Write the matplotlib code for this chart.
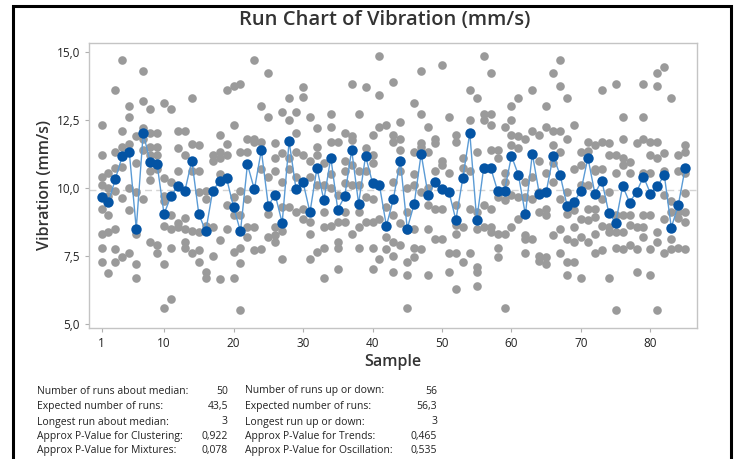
import matplotlib
matplotlib.use('Agg')
import matplotlib.pyplot as plt
from matplotlib.patches import Rectangle

plt.rcParams['font.family'] = ['Open Sans', 'DejaVu Sans']

obs = [
    [12.31, 11.21, 10.41, 10.10, 9.24, 8.31, 7.80, 7.29],
    [10.53, 9.98, 9.7, 8.99, 8.38, 6.88],
    [13.6, 11.33, 10.71, 9.89, 8.50, 7.74, 7.29],
    [14.7, 12.09, 11.51, 10.77, 9.61, 7.45],
    [13.0, 12.6, 11.6, 10.0, 9.2, 7.6],
    [11.9, 10.9, 9.85, 8.3, 7.2, 6.7],
    [14.3, 13.2, 12.2, 11.8, 11.4, 9.6],
    [12.9, 12.0, 11.5, 11.2, 10.6, 10.3, 8.0],
    [12.0, 11.5, 11.2, 10.7, 7.9, 7.6],
    [13.1, 10.35, 9.7, 9.5, 8.6, 7.2, 5.6],
    [12.9, 10.2, 9.0, 8.5, 7.8, 5.9],
    [12.1, 11.45, 10.6, 8.7, 8.55],
    [12.1, 11.2, 8.9, 8.5, 8.0, 7.8],
    [13.3, 11.6, 10.6, 8.4, 7.6],
    [11.57, 10.6, 9.85, 8.38, 7.7, 7.27],
    [9.9, 9.6, 8.6, 6.9, 6.7],
    [11.2, 11.0, 9.9, 8.56, 7.5],
    [11.94, 11.3, 11.1, 10.5, 8.1, 6.65],
    [13.6, 11.6, 11.2, 9.36, 8.5],
    [13.73, 12.3, 9.67, 9.0, 7.64, 6.7],
    [13.8, 11.3, 9.9, 9.0, 7.8, 7.24, 5.5],
    [11.8, 11.33, 9.6, 8.56, 8.2],
    [14.7, 11.8, 11.7, 8.56, 7.7],
    [13.0, 11.7, 10.7, 7.74],
    [14.2, 12.6, 10.4, 9.05, 8.2],
    [11.64, 11.08, 10.6, 8.56, 8.25, 8.0],
    [12.8, 11.27, 10.2, 9.3, 8.4, 7.4],
    [13.3, 12.5, 11.1, 10.7, 9.3],
    [12.8, 12.0, 11.33, 10.4, 9.1],
    [13.7, 13.33, 11.2, 9.24, 8.87],
    [12.6, 11.0, 10.4, 8.75, 8.3, 7.4],
    [12.2, 11.5, 11.2, 10.1, 7.64],
    [10.9, 10.1, 9.1, 8.56, 7.8, 6.7],
    [12.7, 12.25, 11.7, 10.5, 10.0, 8.6],
    [11.7, 9.73, 8.75, 8.0, 7.8, 7.0],
    [12.0, 11.0, 10.6, 10.16, 9.1, 8.75],
    [13.8, 11.9, 11.75, 10.84, 10.1, 8.3],
    [12.7, 10.6, 10.1, 9.1, 8.56, 7.8],
    [13.7, 11.45, 10.6, 9.67, 8.75],
    [11.94, 11.2, 10.9, 9.6, 8.75, 7.8, 7.0],
    [14.83, 13.4, 12.25, 8.87, 7.4],
    [12.3, 9.3, 8.2, 7.76],
    [13.9, 11.94, 11.7, 10.2, 9.0, 8.0, 7.5, 6.9],
    [12.4, 11.8, 11.4, 10.6, 8.7, 7.9],
    [10.0, 9.1, 8.45, 7.27, 6.8, 5.57],
    [13.1, 11.33, 10.5, 10.1, 8.5, 7.8, 7.45],
    [14.3, 12.7, 11.64, 11.5, 9.85, 7.74],
    [12.25, 11.33, 10.0, 9.36, 8.5, 6.8],
    [11.8, 11.64, 10.6, 9.24, 8.13],
    [14.5, 11.0, 10.84, 9.24, 8.13],
    [12.6, 10.53, 7.6, 6.9],
    [11.94, 11.7, 9.36, 8.62, 8.3, 7.6, 6.3],
    [11.08, 10.71, 8.56, 7.27],
    [13.6, 12.5, 10.6, 9.24, 7.6],
    [13.3, 11.33, 9.1, 8.5, 7.1, 6.9, 6.4],
    [14.83, 12.7, 12.5, 10.7, 9.36, 8.56],
    [14.2, 12.7, 12.3, 11.4, 9.24, 8.56, 8.38],
    [11.4, 11.08, 9.67, 8.3, 7.8, 7.45],
    [12.25, 10.53, 10.2, 9.55, 8.3, 5.6],
    [13.0, 12.5, 11.94, 11.57, 9.73, 8.56],
    [13.3, 11.9, 11.45, 9.67, 8.87],
    [11.8, 10.2, 9.67, 8.25, 8.13, 7.6],
    [13.6, 12.1, 10.4, 9.6, 8.13],
    [11.94, 11.0, 9.85, 9.1, 7.5, 7.3],
    [13.0, 12.25, 10.53, 9.24, 9.0, 7.45, 7.2],
    [14.2, 12.1, 11.57, 10.9, 10.2, 8.25],
    [14.7, 13.73, 12.07, 11.33, 9.6, 8.5, 7.6],
    [13.3, 11.8, 9.85, 9.05, 8.13, 7.27, 6.8],
    [12.3, 10.7, 9.18, 8.56, 8.0, 7.27],
    [11.33, 10.84, 10.1, 8.87, 8.2, 6.7],
    [11.7, 11.35, 10.1, 9.24, 8.8, 8.0],
    [11.57, 10.7, 10.6, 9.24, 8.93, 8.3, 7.6],
    [13.6, 11.7, 10.7, 9.6, 8.6, 7.7],
    [11.64, 11.2, 9.85, 8.56, 8.38, 6.7],
    [13.8, 11.2, 10.53, 9.0, 8.38, 7.8, 5.5],
    [12.6, 11.8, 11.08, 10.84, 9.0, 8.38, 7.74],
    [10.96, 10.53, 9.0, 8.62, 7.9],
    [11.64, 8.56, 7.74, 6.9],
    [13.8, 12.6, 11.8, 10.53, 9.0, 8.56, 8.2],
    [11.7, 11.2, 10.53, 9.0, 7.74, 6.8],
    [14.2, 13.73, 11.7, 11.08, 8.38, 8.0, 5.5],
    [14.43, 11.27, 10.6, 9.73, 8.87, 7.6],
    [13.3, 9.5, 9.1, 8.13, 7.74],
    [11.2, 10.6, 9.1, 8.9, 7.8],
    [11.57, 11.33, 10.53, 9.8, 9.1, 8.75, 7.74],
]

# subgroup means (blue points)
means = [
    9.67, 9.48, 10.33, 11.17, 11.31, 8.50, 12.00, 10.96, 10.86, 9.04,
    9.70, 10.07, 9.89, 11.00, 9.04, 8.40, 9.89, 10.24, 10.35, 9.30,
    8.40, 10.86, 9.94, 11.38, 9.35, 9.74, 8.71, 11.71, 9.94, 10.21,
    9.10, 10.72, 9.55, 11.11, 9.20, 9.69, 11.39, 9.42, 11.17, 10.18,
    10.09, 8.60, 9.59, 11.00, 8.50, 9.41, 11.25, 9.74, 10.20, 9.95,
    9.85, 8.82, 10.36, 12.02, 8.82, 10.74, 10.74, 9.89, 9.89, 11.17,
    10.47, 9.02, 11.25, 9.79, 9.85, 11.17, 10.47, 9.35, 9.48, 9.89,
    11.11, 9.79, 10.26, 9.09, 8.71, 10.07, 9.46, 9.85, 10.41, 9.79,
    10.07, 10.46, 8.54, 9.36, 10.72,
]
median = 9.92

samples = list(range(1, len(means) + 1))
xticks = [1, 10, 20, 30, 40, 50, 60, 70, 80]
yticks = [5.0, 7.5, 10.0, 12.5, 15.0]
ytick_labels = ['5,0', '7,5', '10,0', '12,5', '15,0']

stats_left = [
    ('Number of runs about median:', '50'),
    ('Expected number of runs:', '43,5'),
    ('Longest run about median:', '3'),
    ('Approx P-Value for Clustering:', '0,922'),
    ('Approx P-Value for Mixtures:', '0,078'),
]
stats_right = [
    ('Number of runs up or down:', '56'),
    ('Expected number of runs:', '56,3'),
    ('Longest run up or down:', '3'),
    ('Approx P-Value for Trends:', '0,465'),
    ('Approx P-Value for Oscillation:', '0,535'),
]

W, H = 734, 459
fig = plt.figure(figsize=(W / 100, H / 100), dpi=100)
ax = fig.add_axes([89 / W, 1 - 328 / H, (697 - 89) / W, (328 - 43) / H])

# gray observations
xs, ys = [], []
for s, vals in zip(samples, obs):
    for v in vals:
        xs.append(s)
        ys.append(v)
ax.plot(xs, ys, 'o', color='#9a9a9a', markersize=6.2, markeredgewidth=0, zorder=2)

ax.axhline(median, color='#d4d4d4', linestyle=(0, (5, 3)), linewidth=1, zorder=1)

ax.plot(samples, means, '-', color='#5b9bd5', linewidth=1, zorder=3)
ax.plot(samples, means, 'o', color='#0454a4', markersize=7.5, markeredgewidth=0, zorder=4)

ax.set_xlim(-0.8, 86.7)
ax.set_ylim(4.85, 15.32)
ax.set_xticks(xticks)
ax.set_yticks(yticks)
ax.set_yticklabels(ytick_labels)
ax.tick_params(colors='#b0b0b0', labelcolor='#222222', labelsize=8.5, length=3, width=0.8)
for sp in ax.spines.values():
    sp.set_color('#c4c4c4')
    sp.set_linewidth(1)

fig.text(385 / W, 1 - 20 / H, 'Run Chart of Vibration (mm/s)', ha='center', va='center',
         fontsize=14.5, fontweight='semibold', color='#333333')
fig.text(45 / W, 1 - 185 / H, 'Vibration (mm/s)', ha='center', va='center', rotation=90,
         fontsize=11.5, fontweight='semibold', color='#333333')
fig.text(393 / W, 1 - 362 / H, 'Sample', ha='center', va='center', fontsize=11.5,
         fontweight='semibold', color='#333333')

rows_y = [391, 407, 422, 437, 451]
for (lab, val), (lab2, val2), y in zip(stats_left, stats_right, rows_y):
    fy = 1 - y / H
    fig.text(37 / W, fy, lab, ha='left', va='center', fontsize=7.5, color='#222222')
    fig.text(228 / W, fy, val, ha='right', va='center', fontsize=7.5, color='#222222')
    fig.text(245 / W, fy, lab2, ha='left', va='center', fontsize=7.5, color='#222222')
    fig.text(437 / W, fy, val2, ha='right', va='center', fontsize=7.5, color='#222222')

# outer black frame
fig.patches.append(Rectangle((13 / W, -0.1), (731 - 13) / W, 1.1 - 6 / H, transform=fig.transFigure,
                             fill=False, edgecolor='black', linewidth=2.2, clip_on=False))

fig.savefig('out.png', dpi=100)
